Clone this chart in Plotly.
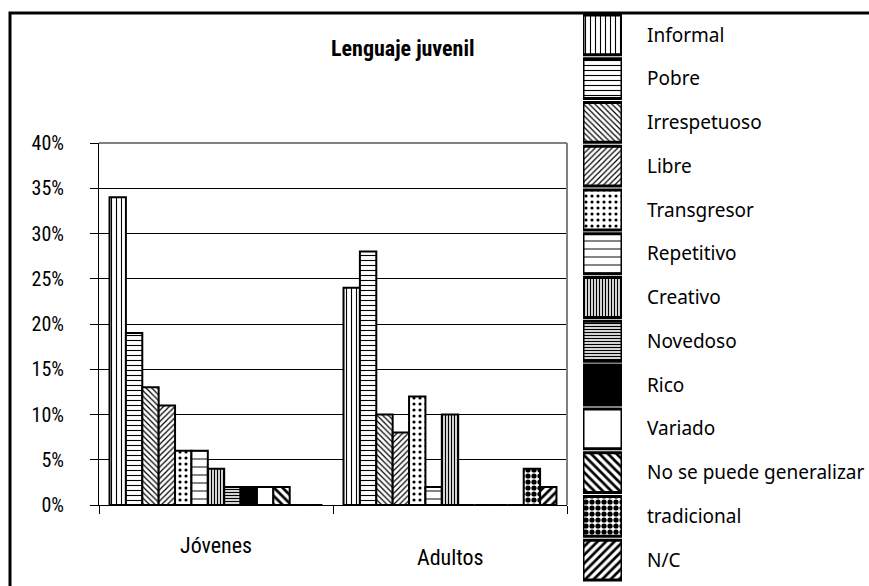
import plotly.graph_objects as go

# ---- data -----------------------------------------------------------------
groups = ["Jóvenes", "Adultos"]
series = [
    "Informal", "Pobre", "Irrespetuoso", "Libre", "Transgresor", "Repetitivo",
    "Creativo", "Novedoso", "Rico", "Variado", "No se puede generalizar",
    "tradicional", "N/C",
]
jovenes = [0.34, 0.19, 0.13, 0.11, 0.06, 0.06, 0.04, 0.02, 0.02, 0.02, 0.02, 0.00, 0.00]
adultos = [0.24, 0.28, 0.10, 0.08, 0.12, 0.02, 0.10, 0.00, 0.00, 0.00, 0.00, 0.04, 0.02]
y_ticks = [0.00, 0.05, 0.10, 0.15, 0.20, 0.25, 0.30, 0.35, 0.40]
title_text = "Lenguaje juvenil"

# ---- styles (one fill per series) -------------------------------------------
# (pattern shape, pattern size, solidity, base colour)
styles = [
    ("|", 5, 0.22, "white"),
    ("-", 5, 0.22, "white"),
    ("\\", 4, 0.30, "white"),
    ("/", 4, 0.30, "white"),
    (".", 6, 0.22, "white"),
    ("-", 8, 0.12, "white"),
    ("|", 3, 0.45, "white"),
    ("-", 3, 0.45, "white"),
    ("", 5, 0.30, "black"),
    ("", 5, 0.30, "white"),
    ("\\", 6, 0.45, "white"),
    (".", 6, 0.60, "white"),
    ("/", 6, 0.45, "white"),
]

W, H = 869, 586
NARROW = "Roboto Condensed, Liberation Sans Narrow, Arial Narrow, Roboto, sans-serif"
LEGEND_FONT = "Noto Sans, DejaVu Sans, sans-serif"


def px_x(x):
    return x / W


def px_y(y):
    return 1 - y / H


def fill(i, width):
    shape, size, solid, base = styles[i]
    return dict(
        color=base,
        line=dict(color="black", width=width),
        pattern=dict(shape=shape, size=size, solidity=solid,
                     fgcolor="black", bgcolor=base, fillmode="replace"),
    )


fig = go.Figure()

# grouped bars, one trace per series
for i, name in enumerate(series):
    fig.add_trace(go.Bar(
        x=groups,
        y=[jovenes[i], adultos[i]],
        name=name,
        marker=fill(i, 2),
        xaxis="x", yaxis="y",
        hoverinfo="skip",
    ))

# legend column: one swatch per series on its own small axes
for i, name in enumerate(series):
    fig.add_trace(go.Bar(
        y=[name],
        x=[1],
        orientation="h",
        width=0.91,
        offset=-0.455,
        marker=fill(i, 3),
        xaxis="x2", yaxis="y2",
        showlegend=False,
        hoverinfo="skip",
    ))

fig.update_layout(
    width=W, height=H,
    margin=dict(l=0, r=0, t=0, b=0, pad=0, autoexpand=False),
    paper_bgcolor="white",
    plot_bgcolor="white",
    showlegend=False,
    barmode="group",
    bargap=0.09,
    bargroupgap=0,
    xaxis=dict(
        domain=[px_x(99), px_x(567)],
        anchor="y",
        type="category",
        categoryorder="array", categoryarray=groups,
        range=[-0.5, 1.5],
        tickson="boundaries",
        ticks="outside", ticklen=8, tickcolor="black", tickwidth=1,
        showticklabels=False,
        showline=True, linecolor="black", linewidth=1,
        showgrid=False, zeroline=False,
        automargin=False,
    ),
    yaxis=dict(
        domain=[px_y(505), px_y(143)],
        anchor="x",
        range=[0, 0.40],
        tickvals=y_ticks,
        tickformat=".0%",
        ticks="outside", ticklen=8, tickcolor="black", tickwidth=1,
        ticklabelstandoff=22,
        tickfont=dict(family=NARROW, size=20, color="black"),
        showline=True, linecolor="black", linewidth=1,
        showgrid=True, gridcolor="black", gridwidth=1,
        zeroline=False,
        automargin=False,
    ),
    xaxis2=dict(
        domain=[px_x(583), px_x(622)],
        anchor="y2",
        range=[0, 1],
        visible=False,
        automargin=False,
    ),
    yaxis2=dict(
        domain=[px_y(582), px_y(13)],
        anchor="x2",
        type="category",
        categoryorder="array", categoryarray=series,
        autorange="reversed",
        side="right",
        ticks="",
        showline=False, showgrid=False, zeroline=False,
        ticklabelstandoff=24,
        tickfont=dict(family=LEGEND_FONT, size=19, color="black"),
        automargin=False,
    ),
    shapes=[
        # outer frame
        dict(type="rect", xref="paper", yref="paper",
             x0=px_x(10), x1=1.05, y0=-0.05, y1=px_y(13),
             line=dict(color="black", width=3), fillcolor="rgba(0,0,0,0)",
             layer="above"),
        # plot-area border, top and right
        dict(type="line", xref="x domain", yref="y domain",
             x0=0, x1=1, y0=1, y1=1,
             line=dict(color="#808080", width=2), layer="above"),
        dict(type="line", xref="x domain", yref="y domain",
             x0=1, x1=1, y0=0, y1=1,
             line=dict(color="#808080", width=2), layer="above"),
    ],
    annotations=[
        dict(text="<b>" + title_text + "</b>", xref="paper", yref="paper",
             x=px_x(403), y=px_y(48), xanchor="center", yanchor="middle",
             showarrow=False, font=dict(family=NARROW, size=22, color="black")),
        dict(text=groups[0], xref="x", yref="paper",
             x=groups[0], y=px_y(545), xanchor="center", yanchor="middle",
             showarrow=False, font=dict(family=NARROW, size=22, color="black")),
        dict(text=groups[1], xref="x", yref="paper",
             x=groups[1], y=px_y(557), xanchor="center", yanchor="middle",
             showarrow=False, font=dict(family=NARROW, size=22, color="black")),
    ],
)

fig.write_html("out.html")
